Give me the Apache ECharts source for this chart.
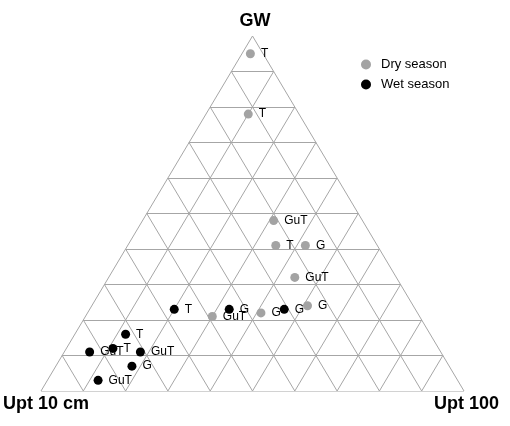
<!DOCTYPE html>
<html>
<head>
<meta charset="utf-8">
<style>
  html, body { margin: 0; padding: 0; background: #fff; }
  #chart { width: 510px; height: 426px; }
</style>
<script src="https://cdn.jsdelivr.net/npm/echarts@6/dist/echarts.min.js"></script>
</head>
<body>
<div id="chart"></div>
<script>
// corner names (top, bottom left, bottom right)
var corners = ['GW', 'Upt 10 cm', 'Upt 100'];
var gridSteps = 10;

// dry season, % share of GW / Upt 10 cm / Upt 100
var dryLabels = ['T', 'T', 'GuT', 'T', 'G', 'GuT', 'G', 'G', 'GuT'];
var dryGW     = [95, 78, 48, 41, 41, 32, 24, 22, 21];
var dryUpt10  = [3, 12, 21, 24, 17, 24, 25, 37, 49];
var dryUpt100 = [2, 10, 31, 35, 42, 44, 51, 41, 30];

// wet season
var wetLabels = ['T', 'G', 'G', 'T', 'GuT', 'T', 'GuT', 'G', 'GuT'];
var wetGW     = [23, 23, 23, 16, 11, 12, 11, 7, 3];
var wetUpt10  = [57, 44, 31, 72, 83, 77, 71, 75, 85];
var wetUpt100 = [20, 33, 46, 12, 6, 11, 18, 18, 12];

var font = 'Arial, "Liberation Sans", sans-serif';

// ternary -> x,y in the unit box (x along base, y = GW share)
function toXY(gw, u10, u100) {
  var s = gw + u10 + u100;
  var a = gw / s, c = u100 / s;
  return [c + a / 2, a];
}

function points(gw, u10, u100, labels) {
  return gw.map(function (v, i) {
    return { value: toXY(v, u10[i], u100[i]), name: labels[i] };
  });
}

// grid lines, 10 steps each way
var gridLines = [];
for (var k = 0; k < gridSteps; k++) {
  var f = k / gridSteps;
  gridLines.push({ coords: [[f / 2, f], [1 - f / 2, f]] });
  gridLines.push({ coords: [[f, 0], [f + (1 - f) / 2, 1 - f]] });
  gridLines.push({ coords: [[1 - f, 0], [(1 - f) / 2, 1 - f]] });
}

var pointLabel = {
  show: true,
  position: 'right',
  distance: 6,
  color: '#000',
  fontSize: 12,
  fontFamily: font,
  textBorderWidth: 0,
  formatter: '{b}'
};

var chart = echarts.init(document.getElementById('chart'));
chart.setOption({
  animation: false,
  grid: { left: 41, top: 36, width: 423, height: 355 },
  xAxis: { type: 'value', min: 0, max: 1, show: false },
  yAxis: { type: 'value', min: 0, max: 1, show: false },
  legend: {
    data: ['Dry season', 'Wet season'],
    orient: 'vertical',
    left: 356,
    top: 53,
    icon: 'circle',
    itemWidth: 10,
    itemHeight: 10,
    itemGap: 7,
    textStyle: { fontSize: 13, color: '#000', fontFamily: font, padding: [0, 0, 0, 5] }
  },
  graphic: [
    { type: 'text', left: 'center', top: 12, style: { text: corners[0], font: 'bold 18px ' + font, fill: '#000' } },
    { type: 'text', left: 3, top: 395, style: { text: corners[1], font: 'bold 18px ' + font, fill: '#000' } },
    { type: 'text', right: 11, top: 395, style: { text: corners[2], font: 'bold 18px ' + font, fill: '#000' } }
  ],
  series: [
    {
      type: 'lines',
      coordinateSystem: 'cartesian2d',
      silent: true,
      lineStyle: { color: '#a6a6a6', width: 1, opacity: 1 },
      data: gridLines
    },
    {
      name: 'Dry season',
      type: 'scatter',
      symbolSize: 9,
      itemStyle: { color: '#a3a3a3', opacity: 1 },
      label: pointLabel,
      data: points(dryGW, dryUpt10, dryUpt100, dryLabels)
    },
    {
      name: 'Wet season',
      type: 'scatter',
      symbolSize: 9,
      itemStyle: { color: '#000', opacity: 1 },
      label: pointLabel,
      data: points(wetGW, wetUpt10, wetUpt100, wetLabels)
    }
  ]
});
</script>
</body>
</html>
